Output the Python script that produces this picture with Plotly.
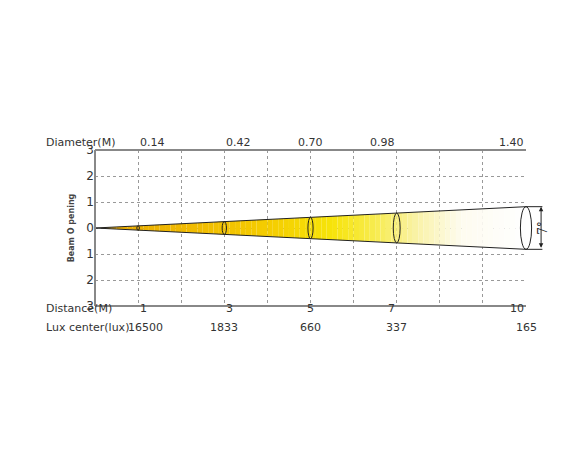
import numpy as np
import plotly.graph_objects as go

distance = [1, 3, 5, 7, 10]
diameter = ["0.14", "0.42", "0.70", "0.98", "1.40"]
lux = ["16500", "1833", "660", "337", "165"]
beam_half = 0.082          # drawn half-height per metre
beam_angle = "7°"
y_ticks = [-3, -2, -1, 0, 1, 2, 3]
y_text = ["3", "2", "1", "0", "1", "2", "3"]
ell_halfw = [0.03, 0.05, 0.06, 0.08, 0.13]

# fill colour stops along the beam (distance, rgb)
grad_x = [0, 2, 4, 5.5, 6.5, 7.5, 8.5, 10]
grad_c = [(232, 168, 0), (240, 185, 0), (245, 205, 0), (247, 228, 10),
          (248, 236, 80), (250, 243, 170), (254, 252, 240), (255, 255, 255)]

fig = go.Figure()
edges = np.linspace(0, 10, 81)
for a, b in zip(edges[:-1], edges[1:]):
    m = (a + b) / 2
    c = [int(np.interp(m, grad_x, [s[i] for s in grad_c])) for i in range(3)]
    fig.add_trace(go.Scatter(
        x=[a, b, b, a, a],
        y=[beam_half * a, beam_half * b, -beam_half * b, -beam_half * a, beam_half * a],
        fill="toself", fillcolor=f"rgb({c[0]},{c[1]},{c[2]})",
        line=dict(width=0), mode="lines", hoverinfo="skip", showlegend=False))

# beam edges
for s in (1, -1):
    fig.add_trace(go.Scatter(x=[0, 10], y=[0, s * beam_half * 10], mode="lines",
                             line=dict(color="#222", width=1), showlegend=False))

shapes = []
gray = "#888"
shapes += [
    dict(type="line", xref="paper", yref="paper", x0=0, x1=0, y0=0, y1=1, line=dict(color=gray, width=2)),
    dict(type="line", xref="paper", yref="paper", x0=0, x1=1, y0=1, y1=1, line=dict(color=gray, width=2)),
    dict(type="line", xref="paper", yref="paper", x0=0, x1=1, y0=0, y1=0, line=dict(color=gray, width=2)),
]
for d, w in zip(distance, ell_halfw):
    h = beam_half * d
    shapes.append(dict(type="circle", xref="paper", yref="y",
                       x0=(d - w) / 10, x1=(d + w) / 10, y0=-h, y1=h,
                       line=dict(color="#222", width=1)))
h10 = beam_half * 10
ax = 1.035
shapes += [
    dict(type="line", xref="paper", yref="y", x0=1.0, x1=ax + 0.003, y0=h10, y1=h10, line=dict(color="#222", width=1)),
    dict(type="line", xref="paper", yref="y", x0=1.0, x1=ax + 0.003, y0=-h10, y1=-h10, line=dict(color="#222", width=1)),
]
fig.update_layout(shapes=shapes)
fig.add_annotation(xref="x domain", yref="y", x=ax, y=h10, axref="x domain", ayref="y",
                   ax=ax, ay=-h10, text="", showarrow=True, arrowhead=2, arrowsize=0.9,
                   arrowwidth=1, arrowside="end+start", arrowcolor="#222")
fig.add_annotation(xref="paper", yref="y", x=ax + 0.025, y=0, text=beam_angle, showarrow=False,
                   textangle=-90, font=dict(size=12, family="DejaVu Serif", color="#222"))

font = dict(family="DejaVu Sans", size=11, color="#333")
fig.add_annotation(xref="paper", yref="paper", x=-0.118, y=1.1, text="Diameter(M)",
                   showarrow=False, xanchor="left", font=font)
fig.add_annotation(xref="paper", yref="paper", x=-0.118, y=-0.07, text="Distance(M)",
                   showarrow=False, xanchor="left", font=font)
fig.add_annotation(xref="paper", yref="paper", x=-0.118, y=-0.19, text="Lux center(lux)",
                   showarrow=False, xanchor="left", font=font)
for d, dm, lx in zip(distance, diameter, lux):
    fig.add_annotation(xref="paper", yref="paper", x=d / 10, y=1.1, text=dm, showarrow=False, font=font)
    fig.add_annotation(xref="paper", yref="paper", x=d / 10, y=-0.07, text=str(d), showarrow=False, font=font)
    fig.add_annotation(xref="paper", yref="paper", x=d / 10, y=-0.19, text=lx, showarrow=False,
                       font=font, xanchor="left" if d == 1 else "center",
                       xshift=-12 if d == 1 else 0)
fig.add_annotation(xref="paper", yref="paper", x=-0.07, y=0.5, text="<b>Beam O pening</b>",
                   showarrow=False, textangle=-90, font=dict(family="DejaVu Sans", size=8, color="#444"))

fig.update_layout(
    width=570, height=464, margin=dict(l=87, r=52, t=142, b=166),
    plot_bgcolor="white", paper_bgcolor="white",
    xaxis=dict(range=[0, 10], dtick=1, showticklabels=False, showgrid=True,
               gridcolor="#999", griddash="dot", gridwidth=1, zeroline=False, showline=False),
    yaxis=dict(range=[-3, 3], tickvals=y_ticks, ticktext=y_text, showgrid=True,
               gridcolor="#999", griddash="dot", gridwidth=1, zeroline=False, showline=False,
               tickfont=dict(family="DejaVu Sans", size=12, color="#333"), ticklen=0),
)
fig.write_html("out.html")
